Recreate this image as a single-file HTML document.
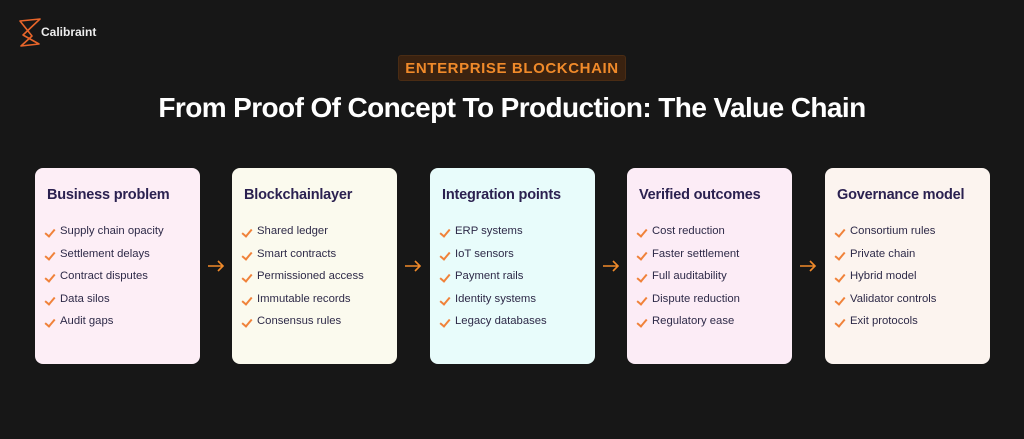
<!DOCTYPE html>
<html><head><meta charset="utf-8"><style>
*{margin:0;padding:0;box-sizing:border-box}
body{width:1024px;height:439px;background:#171717;position:relative;overflow:hidden;font-family:"Liberation Sans",sans-serif}
.logo{position:absolute;left:41px;top:25px;color:#eee;font-size:12px;font-weight:bold}
.badge{position:absolute;left:398px;top:55px;width:228px;height:26px;background:#3a2210;border:1px solid #4a2c14;border-radius:3px;color:#f08a2a;font-weight:bold;font-size:15px;letter-spacing:0.6px;text-align:center;line-height:25px}
h1{position:absolute;left:0;width:1024px;top:92px;text-align:center;color:#fff;font-size:28px;font-weight:bold;letter-spacing:-0.6px}
.card{position:absolute;top:168px;width:165px;height:196px;border-radius:8px;padding:0 0 0 11px}
.card h2{font-size:14.5px;color:#2b2150;font-weight:bold;margin-top:19px;margin-left:1px;letter-spacing:-0.2px}
.card ul{list-style:none;margin-top:22px}
.card li{font-size:11.3px;color:#2e2a48;height:22.6px;position:relative;padding-left:14px}
.card li:before{content:"";position:absolute;left:1px;top:2px;width:4px;height:8px;border-right:2px solid #f0823a;border-bottom:2px solid #f0823a;transform:rotate(40deg)}
.arr{position:absolute;top:256px;width:18px;height:20px}
</style></head><body>
<svg style="position:absolute;left:18px;top:18px" width="24" height="30" viewBox="0 0 24 30"><path d="M2 3 L22 1 L5 17 L21 26 L3 28 L14 18 Z" fill="none" stroke="#e8652a" stroke-width="1.6" stroke-linejoin="round"/></svg>
<div class="logo">Calibraint</div>
<div class="badge">ENTERPRISE BLOCKCHAIN</div>
<h1>From Proof Of Concept To Production: The Value Chain</h1>
<div class="card" style="left:35px;background:#fdeef6"><h2>Business problem</h2><ul><li>Supply chain opacity</li><li>Settlement delays</li><li>Contract disputes</li><li>Data silos</li><li>Audit gaps</li></ul></div>
<div class="card" style="left:232px;background:#fbfaee"><h2>Blockchainlayer</h2><ul><li>Shared ledger</li><li>Smart contracts</li><li>Permissioned access</li><li>Immutable records</li><li>Consensus rules</li></ul></div>
<div class="card" style="left:430px;background:#e8fcfb"><h2>Integration points</h2><ul><li>ERP systems</li><li>IoT sensors</li><li>Payment rails</li><li>Identity systems</li><li>Legacy databases</li></ul></div>
<div class="card" style="left:627px;background:#fcecf6"><h2>Verified outcomes</h2><ul><li>Cost reduction</li><li>Faster settlement</li><li>Full auditability</li><li>Dispute reduction</li><li>Regulatory ease</li></ul></div>
<div class="card" style="left:825px;background:#fcf4ef"><h2>Governance model</h2><ul><li>Consortium rules</li><li>Private chain</li><li>Hybrid model</li><li>Validator controls</li><li>Exit protocols</li></ul></div>
<svg class="arr" style="left:207px" viewBox="0 0 18 20"><path d="M1 10 H16 M11 5 L16 10 L11 15" fill="none" stroke="#f08a2a" stroke-width="1.6"/></svg>
<svg class="arr" style="left:404px" viewBox="0 0 18 20"><path d="M1 10 H16 M11 5 L16 10 L11 15" fill="none" stroke="#f08a2a" stroke-width="1.6"/></svg>
<svg class="arr" style="left:602px" viewBox="0 0 18 20"><path d="M1 10 H16 M11 5 L16 10 L11 15" fill="none" stroke="#f08a2a" stroke-width="1.6"/></svg>
<svg class="arr" style="left:799px" viewBox="0 0 18 20"><path d="M1 10 H16 M11 5 L16 10 L11 15" fill="none" stroke="#f08a2a" stroke-width="1.6"/></svg>
</body></html>
